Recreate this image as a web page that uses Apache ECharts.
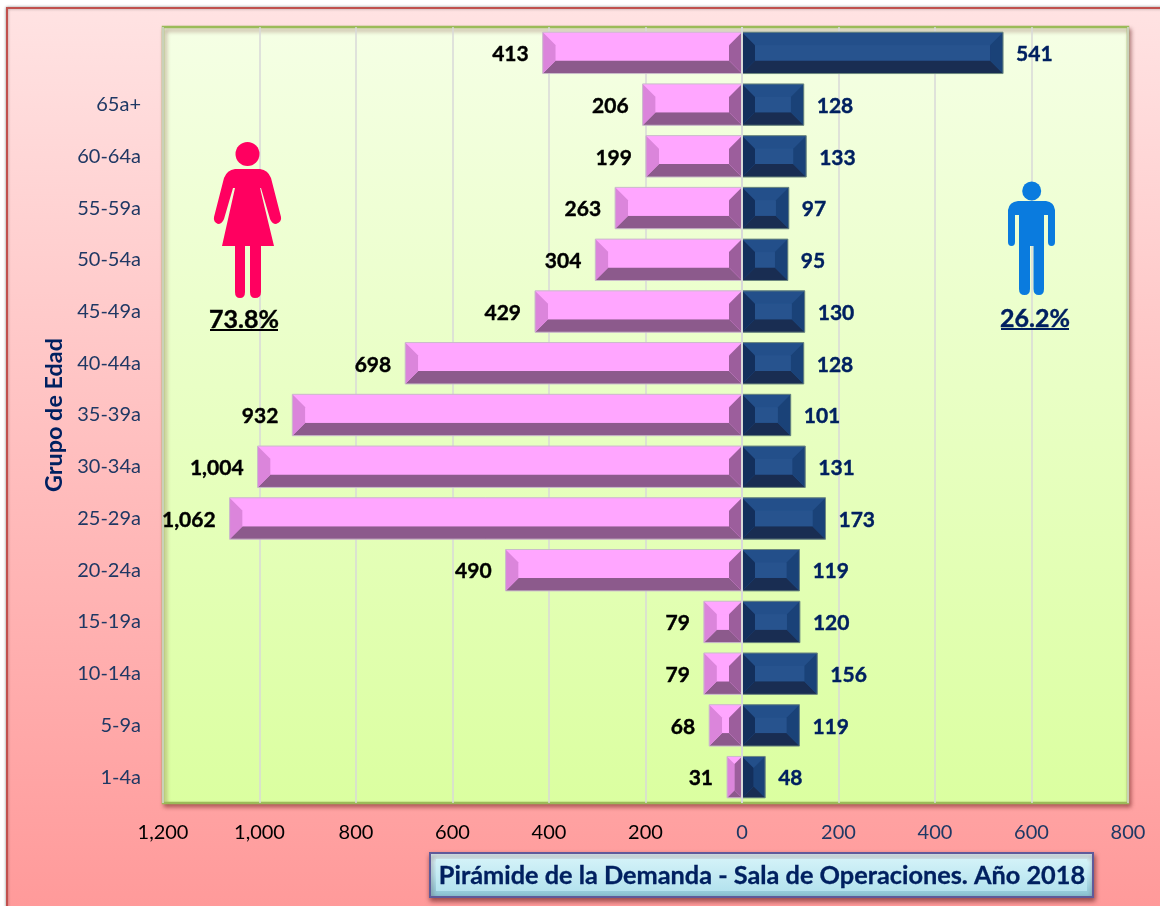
<!DOCTYPE html>
<html><head><meta charset="utf-8">
<style>html,body{margin:0;padding:0;background:#fff}#c{width:1160px;height:906px}</style>
<script src="https://cdn.jsdelivr.net/npm/echarts@6/dist/echarts.min.js"></script>
</head><body><div id="c"></div>
<script>
const categories = ['', '65a+', '60-64a', '55-59a', '50-54a', '45-49a', '40-44a', '35-39a', '30-34a', '25-29a', '20-24a', '15-19a', '10-14a', '5-9a', '1-4a'];
const mujeres = [413, 206, 199, 263, 304, 429, 698, 932, 1004, 1062, 490, 79, 79, 68, 31];
const hombres = [541, 128, 133, 97, 95, 130, 128, 101, 131, 173, 119, 120, 156, 119, 48];
const tituloTexto = 'Pirámide de la Demanda - Sala de Operaciones. Año 2018';
const ejeNombre = 'Grupo de Edad';
const pctMujeres = '73.8%';
const pctHombres = '26.2%';

const FONT = 'Lato';
const NAVY = '#002060';
const fmt = v => Math.abs(v).toLocaleString('en-US');
const lin = (stops) => new echarts.graphic.LinearGradient(0, 0, 0, 1, stops.map((c, i) => ({offset: c[0], color: c[1]})));

const PINK = {top: '#FFA6FF', center: '#FFA6FF', outer: '#DB85DB', inner: '#9C5E9C', bottom: '#8C5A8C', edge: '#c9bcc9'};
const BLUE = {top: '#234F8A', center: '#27538E', outer: '#1A4278', inner: '#132F5C', bottom: '#192D52', edge: '#6f8a80'};

function bevel(colors, sign) {
  return function (params, api) {
    const val = api.value(0), cat = api.value(1);
    const end = api.coord([val, cat]), zero = api.coord([0, cat]);
    const h = api.size([0, 1])[1] * 0.8;
    const t = end[1] - h / 2, b = end[1] + h / 2;
    const xo = end[0], xz = zero[0];
    const w = Math.abs(xo - xz);
    const d = Math.min(13, w / 2, h / 2);
    const io = xo - sign * d, iz = xz + sign * d;
    const poly = (pts, fill) => ({type: 'polygon', shape: {points: pts}, style: {fill: fill}, silent: true});
    return {type: 'group', children: [
      poly([[xo, t], [xz, t], [iz, t + d], [io, t + d]], colors.top),
      poly([[xo, b], [xz, b], [iz, b - d], [io, b - d]], colors.bottom),
      poly([[xo, t], [io, t + d], [io, b - d], [xo, b]], colors.outer),
      poly([[xz, t], [iz, t + d], [iz, b - d], [xz, b]], colors.inner),
      poly([[io, t + d], [iz, t + d], [iz, b - d], [io, b - d]], colors.center),
      {type: 'rect', shape: {x: Math.min(xo, xz), y: t, width: w, height: h}, style: {fill: 'none', stroke: colors.edge, lineWidth: 1}, silent: true}
    ]};
  };
}

const womanPath = 'M235 169 L260 169 Q268 170 271 178 L281 217 Q282 222 276 224 Q272 224 270 219 L261 188 L260 188 L274 246 L261 246 L261 292 Q261 298 255 298 Q250 298 250 292 L250 246 L245 246 L245 292 Q245 298 240 298 Q235 298 235 292 L235 246 L222 246 L235 188 L233 188 L224 219 Q222 224 218 224 Q213 222 214 217 L224 178 Q227 170 235 169 Z';
const manPath = 'M1018 201 L1046 201 Q1054 202 1055 210 L1055 242 Q1055 246 1051.5 246 Q1048 246 1048 242 L1048 215 L1044 215 L1044 289 Q1044 295 1039 295 Q1033.5 295 1033.5 289 L1033.5 246 L1030 246 L1030 289 Q1030 295 1024.5 295 Q1019 295 1019 289 L1019 215 L1015 215 L1015 242 Q1015 246 1011.5 246 Q1008 246 1008 242 L1008 210 Q1009 202 1018 201 Z';
echarts.graphic.registerShape('woman', echarts.graphic.extendPath(womanPath));
echarts.graphic.registerShape('man', echarts.graphic.extendPath(manPath));

const chart = echarts.init(document.getElementById('c'), null, {renderer: 'canvas'});
chart.setOption({
  animation: false,
  backgroundColor: '#fff',
  textStyle: {fontFamily: FONT},
  title: {
    text: tituloTexto, left: 757, top: 858, textAlign: 'center', z: 20,
    textStyle: {fontFamily: FONT, fontWeight: 'bold', fontSize: 25.3, color: NAVY, textBorderColor: NAVY, textBorderWidth: 0.3}
  },
  grid: {
    show: true, left: 163, right: 32, top: 27, bottom: 103,
    backgroundColor: lin([[0, '#F5FFE5'], [1, '#DBFFA0']]),
    borderColor: '#9BBB59', borderWidth: 2.5,
    shadowColor: 'rgba(80,0,0,0.4)', shadowBlur: 4, shadowOffsetX: 2, shadowOffsetY: 3
  },
  xAxis: {
    type: 'value', min: -1200, max: 800, interval: 200,
    axisLine: {show: false}, axisTick: {show: false},
    splitLine: {show: true, lineStyle: {color: '#D9D9D9', width: 1.5}},
    axisLabel: {
      margin: 20, fontFamily: FONT, fontSize: 20,
      color: v => v < 0 ? '#000' : '#1F3864',
      formatter: fmt, showMinLabel: true, showMaxLabel: true
    }
  },
  yAxis: {
    type: 'category', inverse: true, data: categories,
    axisLine: {show: false}, axisTick: {show: false}, splitLine: {show: false},
    axisLabel: {margin: 22, fontFamily: FONT, fontSize: 20, color: '#1F3864', interval: 0, padding: [5, 0, 0, 0]},
    name: ejeNombre, nameLocation: 'middle', nameGap: 91, nameRotate: 90,
    nameTextStyle: {fontFamily: FONT, fontWeight: 'bold', fontSize: 23.4, color: NAVY}
  },
  series: [
    {
      name: 'Mujeres', type: 'bar', stack: 'p', barCategoryGap: '20%',
      data: mujeres.map(v => -v), itemStyle: {color: PINK.center},
      label: {show: true, position: 'left', distance: 14, offset: [0, 1.5], formatter: p => fmt(p.value),
        fontFamily: FONT, fontWeight: 'bold', fontSize: 21, color: '#000', textBorderColor: '#000', textBorderWidth: 0.4},
      markLine: {silent: true, symbol: 'none', z: 8, label: {show: false},
        lineStyle: {color: '#D9D9D9', width: 2, type: 'solid'}, data: [{xAxis: 0}]}
    },
    {
      name: 'Hombres', type: 'bar', stack: 'p',
      data: hombres, itemStyle: {color: BLUE.center},
      label: {show: true, position: 'right', distance: 13, offset: [0, 1.5], formatter: p => fmt(p.value),
        fontFamily: FONT, fontWeight: 'bold', fontSize: 21, color: NAVY, textBorderColor: NAVY, textBorderWidth: 0.4}
    },
    {type: 'custom', name: 'bisel-m', silent: true, z: 4, encode: {x: 0, y: 1},
      renderItem: bevel(PINK, -1), data: mujeres.map((v, i) => [-v, i])},
    {type: 'custom', name: 'bisel-h', silent: true, z: 4, encode: {x: 0, y: 1},
      renderItem: bevel(BLUE, 1), data: hombres.map((v, i) => [v, i])}
  ],
  graphic: {elements: [
    {type: 'rect', z: -10, silent: true, shape: {x: 7, y: 8, width: 1170, height: 910},
      style: {fill: lin([[0, '#FFE3E3'], [1, '#FF9999']]), stroke: '#C0504D', lineWidth: 2,
        shadowColor: 'rgba(0,0,0,0.35)', shadowBlur: 3}},
    {type: 'rect', z: 1, silent: true, shape: {x: 430, y: 853, width: 663, height: 44},
      style: {fill: lin([[0, '#E4FAFE'], [0.5, '#BCE7F1'], [1, '#86BFCF']]), stroke: '#5F5A9A', lineWidth: 2,
        shadowColor: 'rgba(60,0,0,0.5)', shadowBlur: 5, shadowOffsetX: 1, shadowOffsetY: 3}},
    {type: 'rect', z: 2, silent: true, shape: {x: 436, y: 859, width: 651, height: 32},
      style: {fill: lin([[0, '#D3F2F8'], [1, '#B4E2EE']])}},
    {type: 'circle', z: 20, silent: true, shape: {cx: 247.5, cy: 154, r: 12}, style: {fill: '#FF0060'}},
    {type: 'woman', z: 20, silent: true, style: {fill: '#FF0060'}},
    {type: 'circle', z: 20, silent: true, shape: {cx: 1031.7, cy: 191, r: 9.5}, style: {fill: '#0A7BDE'}},
    {type: 'man', z: 20, silent: true, style: {fill: '#0A7BDE'}},
    {type: 'text', z: 20, silent: true, x: 244, y: 320,
      style: {text: pctMujeres, fill: '#000', font: 'bold 25px ' + FONT, align: 'center', verticalAlign: 'middle', stroke: '#000', lineWidth: 0.4}},
    {type: 'line', z: 20, silent: true, shape: {x1: 210, y1: 330, x2: 278, y2: 330}, style: {stroke: '#000', lineWidth: 2}},
    {type: 'text', z: 20, silent: true, x: 1035, y: 319,
      style: {text: pctHombres, fill: NAVY, font: 'bold 25px ' + FONT, align: 'center', verticalAlign: 'middle', stroke: NAVY, lineWidth: 0.4}},
    {type: 'line', z: 20, silent: true, shape: {x1: 1001, y1: 329, x2: 1069, y2: 329}, style: {stroke: NAVY, lineWidth: 2}}
  ]}
});
</script></body></html>
